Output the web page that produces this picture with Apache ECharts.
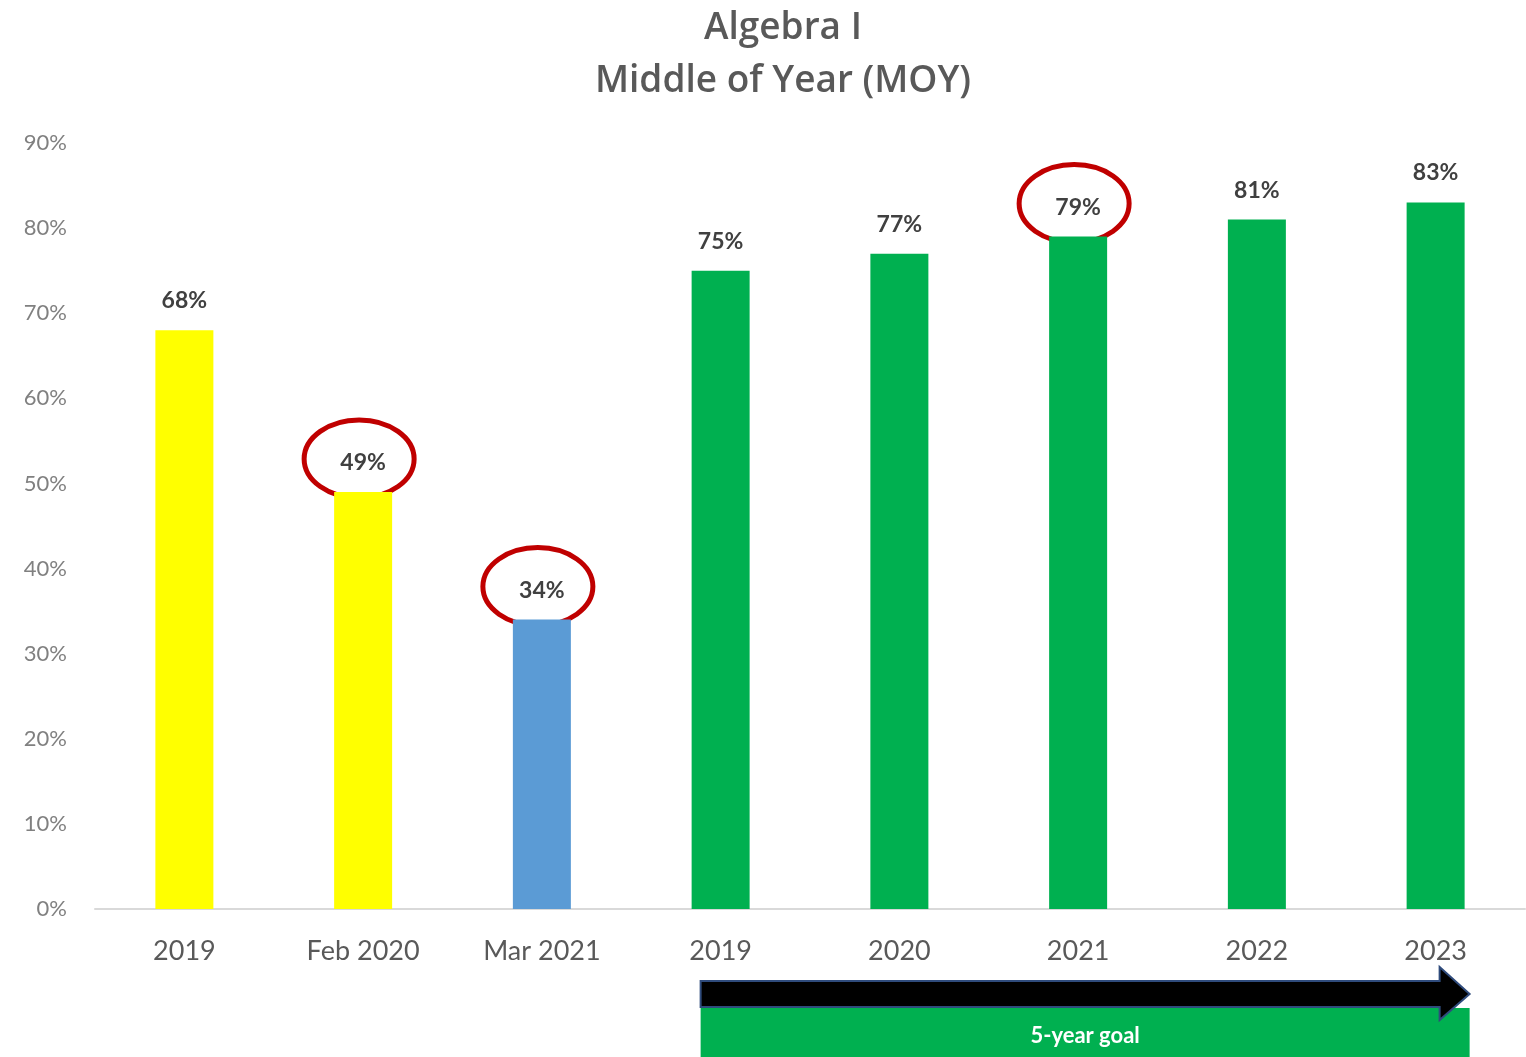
<!DOCTYPE html>
<html>
<head>
<meta charset="utf-8">
<script src="https://cdn.jsdelivr.net/npm/echarts@6/dist/echarts.min.js"></script>
<style>
  html, body { margin: 0; padding: 0; background: #fff; }
  #chart { width: 1526px; height: 1057px; }
</style>
</head>
<body>
<div id="chart"></div>
<script>
/* Algebra I - Middle of Year */
var categories = ['2019', 'Feb 2020', 'Mar 2021', '2019', '2020', '2021', '2022', '2023'];
var values = [68, 49, 34, 75, 77, 79, 81, 83];
var barColors = ['#ffff00', '#ffff00', '#5b9bd5', '#00b050', '#00b050', '#00b050', '#00b050', '#00b050'];
var circled = [1, 2, 5];
var yTicks = [0, 10, 20, 30, 40, 50, 60, 70, 80, 90];

var chartDom = document.getElementById('chart');
var myChart = echarts.init(chartDom);
var font = 'Lato, "Open Sans", sans-serif';

var option = {
  animation: false,
  textStyle: { fontFamily: font },
  title: {
    text: 'Algebra I\nMiddle of Year (MOY)',
    left: 778,
    textAlign: 'center',
    top: -3,
    textStyle: {
      fontSize: 37,
      fontWeight: 600,
      lineHeight: 53,
      color: '#595959',
      fontFamily: '"Open Sans", sans-serif'
    }
  },
  grid: {
    left: 95,
    right: 1,
    top: 143,
    bottom: 148
  },
  xAxis: {
    type: 'category',
    data: categories,
    axisLine: { lineStyle: { color: '#d9d9d9', width: 2 } },
    axisTick: { show: false },
    axisLabel: {
      margin: 29,
      fontSize: 27,
      color: '#595959',
      fontFamily: font
    }
  },
  yAxis: {
    type: 'value',
    min: yTicks[0],
    max: yTicks[yTicks.length - 1],
    interval: 10,
    splitLine: { show: false },
    axisLine: { show: false },
    axisTick: { show: false },
    axisLabel: {
      margin: 28,
      fontSize: 22,
      color: '#808080',
      fontFamily: font,
      formatter: '{value}%'
    }
  },
  series: [{
    type: 'bar',
    barWidth: 58,
    data: values.map(function (v, i) {
      return { value: v, itemStyle: { color: barColors[i] } };
    }),
    label: {
      show: true,
      position: 'top',
      distance: 18,
      formatter: '{c}%',
      fontSize: 23,
      fontWeight: 'bold',
      color: '#404040',
      fontFamily: font
    }
  }]
};

myChart.setOption(option);

// annotations: red circles around labels, 5-year goal arrow
var graphics = [];
circled.forEach(function (i) {
  var p = myChart.convertToPixel({ seriesIndex: 0 }, [i, values[i]]);
  graphics.push({
    type: 'ellipse',
    shape: { cx: p[0] - 4, cy: p[1] - 33, rx: 55, ry: 39 },
    style: { fill: 'none', stroke: '#c00000', lineWidth: 5 }
  });
});

var x0 = myChart.convertToPixel({ xAxisIndex: 0 }, 3) - 20;
var x1 = myChart.convertToPixel({ xAxisIndex: 0 }, 7) + 34;
graphics.push({
  type: 'rect',
  shape: { x: x0, y: 1008, width: x1 - x0, height: 49 },
  style: { fill: '#00b050' }
});
graphics.push({
  type: 'text',
  x: (x0 + x1) / 2,
  y: 1036,
  style: {
    text: '5-year goal',
    fill: '#ffffff',
    fontSize: 22,
    fontWeight: 'bold',
    fontFamily: font,
    align: 'center',
    verticalAlign: 'middle'
  }
});
graphics.push({
  type: 'polygon',
  shape: {
    points: [
      [x0, 981], [x1 - 30, 981], [x1 - 30, 967], [x1, 994],
      [x1 - 30, 1020], [x1 - 30, 1007], [x0, 1007]
    ]
  },
  style: { fill: '#000000', stroke: '#2f4b7c', lineWidth: 2 }
});

myChart.setOption({ graphic: graphics });
</script>
</body>
</html>
